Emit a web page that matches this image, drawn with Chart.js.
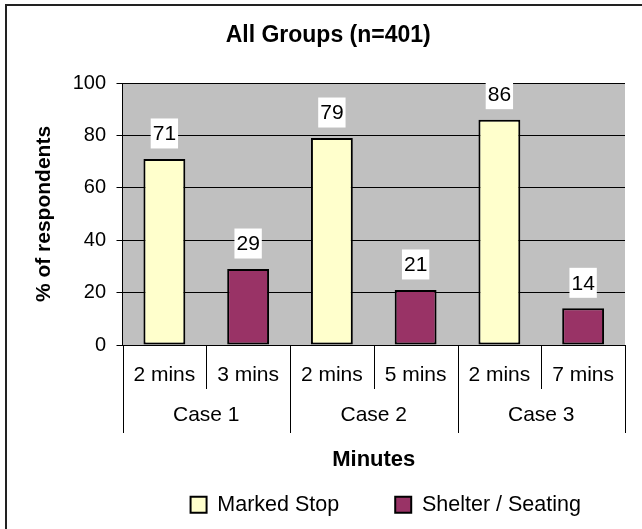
<!DOCTYPE html>
<html>
<head>
<meta charset="utf-8">
<script src="https://cdn.jsdelivr.net/npm/chart.js@4/dist/chart.umd.min.js"></script>
<style>
  html, body { margin: 0; padding: 0; background: #fff; }
  #wrap { position: relative; width: 642px; height: 529px; overflow: hidden; }
  #frame { position: absolute; left: 5px; top: 4px; width: 660px; height: 560px;
           border-left: 2px solid #222; border-top: 2px solid #222; pointer-events: none; }
  canvas { display: block; }
</style>
</head>
<body>
<div id="wrap">
  <canvas id="chart" width="642" height="529"></canvas>
  <div id="frame"></div>
</div>
<script>
// Sub-category labels (one per bar) and the case each pair belongs to
const minuteLabels = ['2 mins', '3 mins', '2 mins', '5 mins', '2 mins', '7 mins'];
const cases = ['Case 1', 'Case 2', 'Case 3'];

// Percentage of respondents choosing each option
const markedStop = [71, null, 79, null, 86, null];
const shelterSeating = [null, 29, null, 21, null, 14];

const yTicks = [0, 20, 40, 60, 80, 100];

const FONT = "'Liberation Sans', Arial, Helvetica, sans-serif";
Chart.defaults.font.family = FONT;
Chart.defaults.color = '#000';

// Grey plot background
const plotBackground = {
  id: 'plotBackground',
  beforeDraw(chart) {
    const { ctx, chartArea: a } = chart;
    ctx.save();
    ctx.fillStyle = '#C0C0C0';
    ctx.fillRect(a.left, a.top, a.right - a.left, a.bottom - a.top);
    ctx.restore();
  }
};

// Nudge the legend row a little to the right of the plot centre
const legendOffset = {
  id: 'legendOffset',
  afterLayout(chart) {
    if (chart.legend) {
      chart.legend.left += 12;
      chart.legend.right += 12;
    }
  }
};

// Two-level category axis: separators between bars and between cases, plus case names
const groupAxis = {
  id: 'groupAxis',
  afterDraw(chart) {
    const { ctx, chartArea: a } = chart;
    const x = chart.scales.x;
    const n = minuteLabels.length;
    const per = n / cases.length;
    const base = a.bottom;
    const boundary = (i) => {
      if (i <= 0) return a.left;
      if (i >= n) return a.right;
      return (x.getPixelForValue(i - 1) + x.getPixelForValue(i)) / 2;
    };
    ctx.save();
    ctx.strokeStyle = '#000';
    ctx.lineWidth = 1;
    for (let i = 0; i <= n; i++) {
      const px = Math.round(boundary(i)) + 0.5;
      const len = (i % per === 0) ? 88 : 44;
      ctx.beginPath();
      ctx.moveTo(px, base);
      ctx.lineTo(px, base + len);
      ctx.stroke();
    }
    ctx.fillStyle = '#000';
    ctx.font = '21px ' + FONT;
    ctx.textAlign = 'center';
    ctx.textBaseline = 'middle';
    cases.forEach((c, k) => {
      const cx = (boundary(k * per) + boundary((k + 1) * per)) / 2;
      ctx.fillText(c, cx, base + 70);
    });
    ctx.restore();
  }
};

// Value labels on a white box above each bar
const valueLabels = {
  id: 'valueLabels',
  afterDatasetsDraw(chart) {
    const { ctx } = chart;
    ctx.save();
    ctx.font = '21px ' + FONT;
    ctx.textAlign = 'center';
    ctx.textBaseline = 'middle';
    chart.data.datasets.forEach((ds, di) => {
      const meta = chart.getDatasetMeta(di);
      meta.data.forEach((bar, i) => {
        const v = ds.data[i];
        if (v === null || v === undefined) return;
        const text = String(v);
        const w = ctx.measureText(text).width + 4;
        const h = 30;
        const cy = bar.y - 25.5;
        ctx.fillStyle = '#fff';
        ctx.fillRect(bar.x - w / 2, cy - h / 2, w, h);
        ctx.fillStyle = '#000';
        ctx.fillText(text, bar.x, cy + 1);
      });
    });
    ctx.restore();
  }
};

new Chart(document.getElementById('chart'), {
  type: 'bar',
  data: {
    labels: minuteLabels,
    datasets: [
      {
        label: 'Marked Stop',
        data: markedStop,
        backgroundColor: '#FFFFCC',
        borderColor: '#000',
        borderWidth: 2,
        borderSkipped: false
      },
      {
        label: 'Shelter / Seating',
        data: shelterSeating,
        backgroundColor: '#993366',
        borderColor: '#000',
        borderWidth: 2,
        borderSkipped: false
      }
    ]
  },
  options: {
    responsive: false,
    animation: false,
    devicePixelRatio: 1,
    layout: { padding: { left: 31.4, right: 17, top: 0, bottom: 3.5 } },
    datasets: { bar: { grouped: false, categoryPercentage: 1, barPercentage: 0.5 } },
    plugins: {
      title: {
        display: true,
        text: 'All Groups (n=401)',
        color: '#000',
        font: { size: 23, weight: 'bold', family: FONT },
        padding: { top: 21.7, bottom: 33.7 }
      },
      legend: {
        position: 'bottom',
        fullSize: false,
        labels: {
          color: '#000',
          font: { size: 21.5, family: FONT },
          boxWidth: 16,
          boxHeight: 16,
          padding: 56
        }
      },
      tooltip: { enabled: false }
    },
    scales: {
      x: {
        grid: { display: false, drawTicks: false },
        border: { display: true, color: '#000', width: 1 },
        ticks: { font: { size: 21 }, padding: 17.5, maxRotation: 0, autoSkip: false, color: '#000' },
        title: {
          display: true,
          text: 'Minutes',
          color: '#000',
          font: { size: 22, weight: 'bold', family: FONT },
          padding: { top: 0, bottom: -35.2 }
        },
        afterFit(scale) { scale.height = 93; }
      },
      y: {
        min: 0,
        max: 100,
        afterBuildTicks(scale) { scale.ticks = yTicks.map(v => ({ value: v })); },
        grid: { color: '#000', lineWidth: 1, tickLength: 6, drawTicks: true },
        border: { display: true, color: '#000', width: 1 },
        ticks: { font: { size: 20 }, padding: 10.5, color: '#000' },
        title: {
          display: true,
          text: '% of respondents',
          color: '#000',
          font: { size: 21, weight: 'bold', family: FONT },
          padding: { top: 0, bottom: 0 }
        },
        afterFit(scale) { scale.width = 91.1; }
      }
    }
  },
  plugins: [plotBackground, legendOffset, groupAxis, valueLabels]
});
</script>
</body>
</html>
